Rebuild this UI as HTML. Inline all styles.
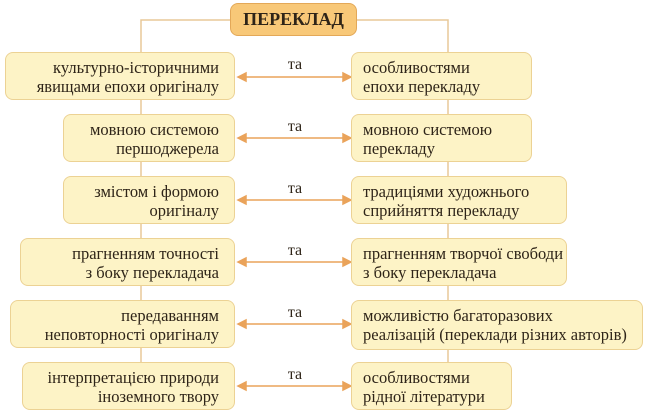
<!DOCTYPE html>
<html><head><meta charset="utf-8"><style>
body{margin:0;width:646px;height:412px;background:#fff;position:relative;overflow:hidden;font-family:"Liberation Serif",serif;color:#2e2418}
.b{position:absolute;box-sizing:border-box;background:#fdf3c6;border:1.5px solid #ecd294;border-radius:8px;font-size:16.5px;line-height:19px;padding-top:5px;white-space:nowrap}
.l{text-align:right;padding-right:15px}
.r{text-align:left;padding-left:11px}
.t{position:absolute;left:230px;top:3px;width:127px;height:33px;box-sizing:border-box;background:#f8c878;border:1.5px solid #e3a858;border-radius:8px;font-weight:bold;font-size:18px;text-align:center;line-height:30px}
.ta{position:absolute;left:278px;width:34px;text-align:center;font-size:16px}
svg{position:absolute;left:0;top:0}
</style></head><body>
<svg width="646" height="412">
<g stroke="#e8c898" stroke-width="1.5" fill="none">
<path d="M230 20 H141 V380 M357 20 H448 V380"/>
</g>
<g stroke="#eaa35a" stroke-width="1.5" fill="#eaa35a">
<line x1="242" y1="77" x2="348" y2="77"/><polygon points="238,77 246,73 246,81"/><polygon points="351,77 343,73 343,81"/>
<line x1="242" y1="138" x2="348" y2="138"/><polygon points="238,138 246,134 246,142"/><polygon points="351,138 343,134 343,142"/>
<line x1="242" y1="200" x2="348" y2="200"/><polygon points="238,200 246,196 246,204"/><polygon points="351,200 343,196 343,204"/>
<line x1="242" y1="262" x2="348" y2="262"/><polygon points="238,262 246,258 246,266"/><polygon points="351,262 343,258 343,266"/>
<line x1="242" y1="324" x2="348" y2="324"/><polygon points="238,324 246,320 246,328"/><polygon points="351,324 343,320 343,328"/>
<line x1="242" y1="386" x2="348" y2="386"/><polygon points="238,386 246,382 246,390"/><polygon points="351,386 343,382 343,390"/>
</g></svg>
<div class="t">ПЕРЕКЛАД</div>
<div class="b l" style="left:5px;top:52px;width:230px;height:48px">культурно-історичними<br>явищами епохи оригіналу</div>
<div class="b r" style="left:351px;top:52px;width:181px;height:48px">особливостями<br>епохи перекладу</div>
<div class="b l" style="left:63px;top:114px;width:172px;height:48px">мовною системою<br>першоджерела</div>
<div class="b r" style="left:351px;top:114px;width:181px;height:48px">мовною системою<br>перекладу</div>
<div class="b l" style="left:63px;top:176px;width:172px;height:48px">змістом і формою<br>оригіналу</div>
<div class="b r" style="left:351px;top:176px;width:216px;height:48px">традиціями художнього<br>сприйняття перекладу</div>
<div class="b l" style="left:20px;top:238px;width:215px;height:48px">прагненням точності<br>з боку перекладача</div>
<div class="b r" style="left:351px;top:238px;width:216px;height:48px">прагненням творчої свободи<br>з боку перекладача</div>
<div class="b l" style="left:10px;top:300px;width:225px;height:48px">передаванням<br>неповторності оригіналу</div>
<div class="b r" style="left:351px;top:300px;width:292px;height:50px">можливістю багаторазових<br>реалізацій (переклади різних авторів)</div>
<div class="b l" style="left:22px;top:362px;width:213px;height:48px">інтерпретацією природи<br>іноземного твору</div>
<div class="b r" style="left:351px;top:362px;width:161px;height:48px">особливостями<br>рідної літератури</div>
<div class="ta" style="top:56px">та</div>
<div class="ta" style="top:118px">та</div>
<div class="ta" style="top:180px">та</div>
<div class="ta" style="top:242px">та</div>
<div class="ta" style="top:304px">та</div>
<div class="ta" style="top:366px">та</div>
</body></html>
